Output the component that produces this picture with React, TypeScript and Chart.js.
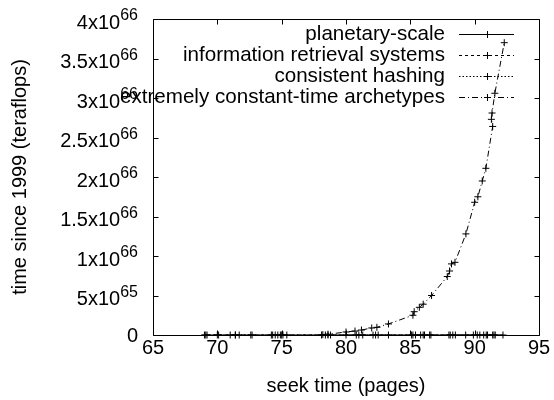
import React, { useEffect, useRef } from "react";
import { Chart, registerables } from "chart.js";

Chart.register(...registerables);

// ---- data ----
const seriesLabels = [
  "planetary-scale",
  "information retrieval systems",
  "consistent hashing",
  "extremely constant-time archetypes",
];

const planetaryX = [69.0, 70.0, 71.4, 72.6, 74.2, 74.7, 75.1, 78.1, 78.8, 80.8, 82.1, 83.3, 85.4, 86.1, 88.0, 88.5, 89.9, 90.7, 91.4, 92.2];
const planetaryY = [0, 0, 0, 0, 0, 0, 0, 0, 0, 0, 0, 0, 0, 0, 0, 0, 0, 0, 0, 0];

const infoX = [69.2, 71.0, 71.7, 74.5, 74.9, 75.4, 78.4, 80.0, 81.0, 82.3, 85.1, 85.8, 86.6, 88.1, 89.3, 90.2, 91.0, 91.6];
const infoY = [0, 0, 0, 0, 0, 0, 0, 0, 0, 0, 0, 0, 0, 0, 0, 0, 0, 0];

const hashX = [69.1, 70.1, 71.4, 72.7, 74.3, 75.0, 78.6, 81.3, 82.5, 85.2, 86.0, 86.5, 88.3, 90.4, 90.9, 91.5];
const hashY = [0, 0, 0, 0, 0, 0, 0, 0, 0, 0, 0, 0, 0, 0, 0, 0];

const archX = [78.2, 78.6, 80.0, 80.7, 81.2, 82.0, 82.4, 83.3, 85.2, 85.3, 85.7, 86.0, 86.65, 87.87, 88.05, 88.2, 88.47, 89.32, 90.0, 90.25, 90.59, 90.87, 91.4, 91.3, 91.35, 91.57, 92.3];
const archY = [5e63, 1e64, 3.8e64, 5e64, 6.3e64, 8.9e64, 9.7e64, 1.4e65, 2.5e65, 2.95e65, 3.5e65, 3.9e65, 5.0e65, 7.4e65, 8.1e65, 9.0e65, 9.2e65, 1.28e66, 1.68e66, 1.75e66, 1.95e66, 2.11e66, 2.64e66, 2.73e66, 2.81e66, 3.06e66, 3.7e66];

const xTicks = [65, 70, 75, 80, 85, 90, 95];
const yTicks = [0, 5e65, 1e66, 1.5e66, 2e66, 2.5e66, 3e66, 3.5e66, 4e66];
const yTickBase = ["0", "5x10", "1x10", "1.5x10", "2x10", "2.5x10", "3x10", "3.5x10", "4x10"];
const yTickExp = ["", "65", "66", "66", "66", "66", "66", "66", "66"];

const xTitle = "seek time (pages)";
const yTitle = "time since 1999 (teraflops)";

const dashes: number[][] = [[], [3, 3], [1.5, 2], [6, 3, 1, 3]];

const FONT = "'Liberation Sans', Arial, sans-serif";

export default function App() {
  const ref = useRef<HTMLCanvasElement | null>(null);

  useEffect(() => {
    const canvas = ref.current;
    if (!canvas) return;

    const xsAll = [planetaryX, infoX, hashX, archX];
    const ysAll = [planetaryY, infoY, hashY, archY];

    const datasets = seriesLabels.map((label, i) => ({
      label,
      data: xsAll[i].map((x, j) => ({ x, y: ysAll[i][j] })),
      showLine: true,
      borderColor: "#000",
      borderWidth: 1,
      borderDash: dashes[i],
      pointStyle: "cross" as const,
      pointRadius: 3.5,
      pointBorderWidth: 1,
      pointBorderColor: "#000",
      pointBackgroundColor: "#000",
      fill: false,
      tension: 0,
      clip: false as any,
    }));

    const framePlugin = {
      id: "gnuplotFrame",
      afterDraw(chart: any) {
        const ctx: CanvasRenderingContext2D = chart.ctx;
        const { left, right, top, bottom } = chart.chartArea;
        const xs = chart.scales.x;
        const ys = chart.scales.y;
        const L = Math.round(left) + 0.5;
        const R = Math.round(right) + 0.5;
        const T = Math.round(top) + 0.5;
        const B = Math.round(bottom) + 0.5;
        ctx.save();
        ctx.strokeStyle = "#000";
        ctx.lineWidth = 1;
        ctx.setLineDash([]);
        ctx.beginPath();
        ctx.rect(L, T, R - L, B - T);
        ctx.stroke();
        const tl = 5;
        // x ticks
        ctx.beginPath();
        xTicks.forEach((v) => {
          const px = Math.round(xs.getPixelForValue(v)) + 0.5;
          ctx.moveTo(px, B);
          ctx.lineTo(px, B - tl);
          ctx.moveTo(px, T);
          ctx.lineTo(px, T + tl);
        });
        yTicks.forEach((v) => {
          const py = Math.round(ys.getPixelForValue(v)) + 0.5;
          ctx.moveTo(L, py);
          ctx.lineTo(L + tl, py);
          ctx.moveTo(R, py);
          ctx.lineTo(R - tl, py);
        });
        ctx.stroke();

        ctx.fillStyle = "#000";
        // x tick labels
        ctx.font = `20px ${FONT}`;
        ctx.textAlign = "center";
        ctx.textBaseline = "middle";
        xTicks.forEach((v) => {
          ctx.fillText(String(v), xs.getPixelForValue(v), B + 13);
        });
        // y tick labels
        const rightEdge = left - 15;
        yTicks.forEach((v, i) => {
          const py = ys.getPixelForValue(v);
          const exp = yTickExp[i];
          if (!exp) {
            ctx.font = `20px ${FONT}`;
            ctx.textAlign = "right";
            ctx.fillText(yTickBase[i], rightEdge, py + 1);
            return;
          }
          ctx.font = `16px ${FONT}`;
          const sw = ctx.measureText(exp).width;
          ctx.textAlign = "left";
          ctx.fillText(exp, rightEdge - sw, py - 3);
          ctx.font = `20px ${FONT}`;
          ctx.textAlign = "right";
          ctx.fillText(yTickBase[i], rightEdge - sw, py + 4);
        });
        // titles
        ctx.font = `20px ${FONT}`;
        ctx.textAlign = "center";
        ctx.fillText(xTitle, (left + right) / 2, 386);
        ctx.save();
        ctx.translate(20, (top + bottom) / 2);
        ctx.rotate(-Math.PI / 2);
        ctx.fillText(yTitle, 0, 0);
        ctx.restore();

        // legend
        const textRight = right - 94;
        const sx0 = right - 80;
        const sx1 = right - 25;
        seriesLabels.forEach((lab, i) => {
          const y = top + 15 + i * 21;
          ctx.font = `20.6px ${FONT}`;
          ctx.textAlign = "right";
          ctx.textBaseline = "middle";
          ctx.fillText(lab, textRight, y);
          const ly = Math.round(y) + 0.5;
          ctx.beginPath();
          ctx.setLineDash(dashes[i]);
          ctx.moveTo(sx0, ly);
          ctx.lineTo(sx1, ly);
          ctx.stroke();
          ctx.setLineDash([]);
          const mx = Math.round((sx0 + sx1) / 2) + 0.5;
          ctx.beginPath();
          ctx.moveTo(mx - 3.5, ly);
          ctx.lineTo(mx + 3.5, ly);
          ctx.moveTo(mx, ly - 3.5);
          ctx.lineTo(mx, ly + 3.5);
          ctx.stroke();
        });
        ctx.restore();
      },
    };

    const chart = new Chart(canvas, {
      type: "scatter",
      data: { datasets: datasets as any },
      options: {
        animation: false,
        responsive: false,
        maintainAspectRatio: false,
        devicePixelRatio: 1,
        layout: { padding: { left: 153, right: 15, top: 19, bottom: 65 } },
        plugins: { legend: { display: false }, tooltip: { enabled: false } },
        scales: {
          x: { type: "linear", min: 65, max: 95, display: false },
          y: { type: "linear", min: 0, max: 4e66, display: false },
        },
      },
      plugins: [framePlugin],
    });

    return () => chart.destroy();
  }, []);

  return (
    <div style={{ position: "fixed", left: 0, top: 0, width: 554, height: 400, background: "#fff" }}>
      <canvas ref={ref} width={554} height={400} style={{ width: 554, height: 400 }} />
    </div>
  );
}
